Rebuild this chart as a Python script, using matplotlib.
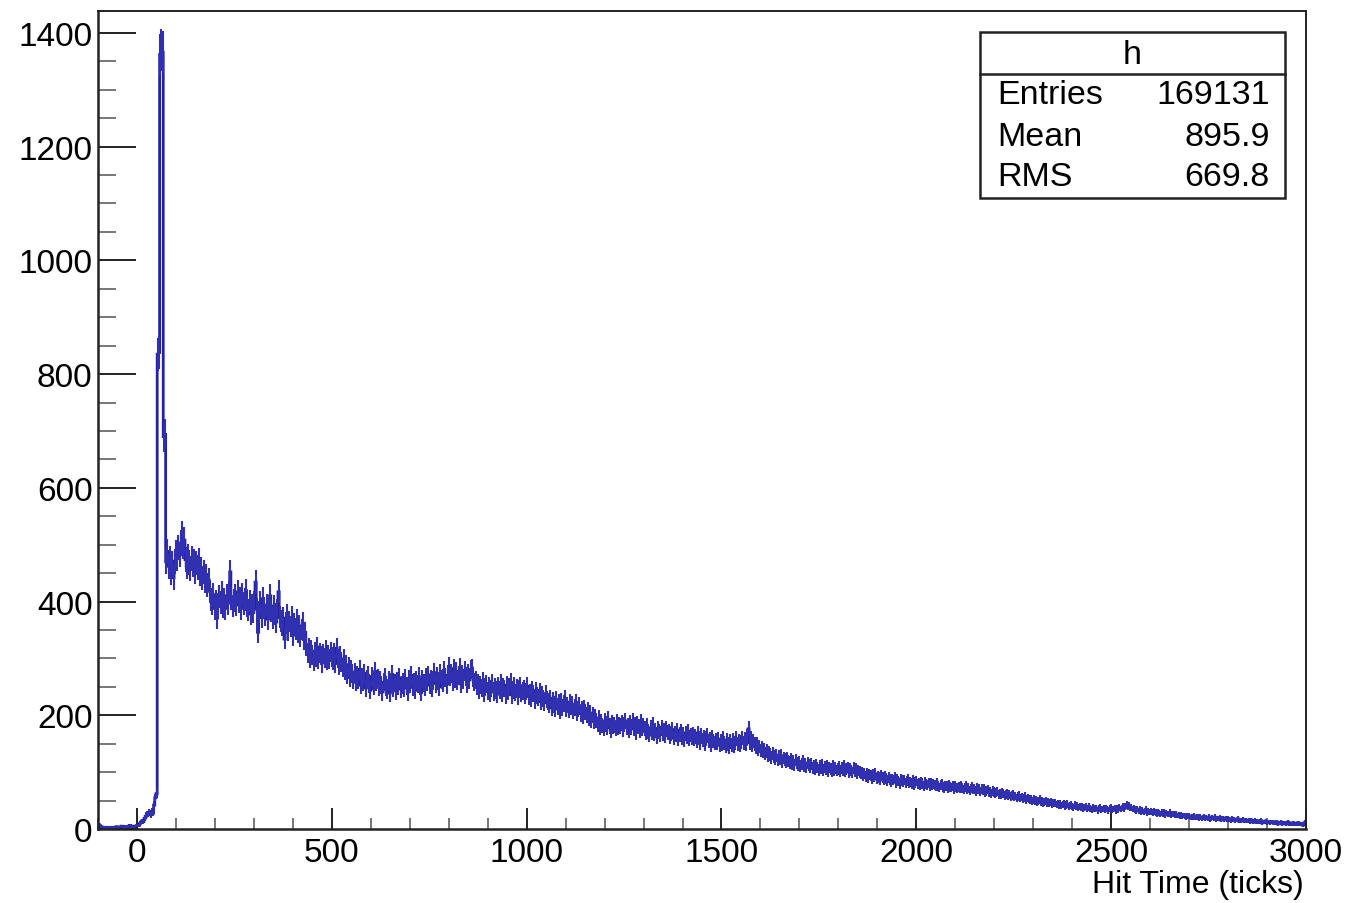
import numpy as np
import matplotlib
matplotlib.use("Agg")
import matplotlib.pyplot as plt
from matplotlib.patches import Rectangle
from matplotlib.lines import Line2D
from matplotlib.ticker import MultipleLocator

# ---- histogram definition: 1000 bins on [-100, 3000] ----
n_bins = 1000
x_low, x_high = -100.0, 3000.0

# bins below zero (pedestal)
counts_pre = [8, 6, 4, 3, 2, 3, 2, 1, 2, 3, 2, 2, 1, 3, 2, 4, 3, 2, 3, 5,
              4, 3, 2, 4, 3, 5, 6, 4, 5, 4, 3, 5, 6]
# slow rise before the prompt peak
counts_rise = [6, 9, 12, 14, 13, 18, 22, 27, 26, 29, 25, 31, 28, 42, 55, 62]
# prompt peak
counts_peak = [835, 838, 1362, 1370, 1366, 690, 694]
# main body
counts_early = [
    470, 488, 462, 475, 451, 468, 442, 471, 487, 476, 495, 482, 503, 519, 497, 508,
    474, 462, 480, 469, 458, 476, 465, 471, 452, 468, 460, 473, 449, 457, 441, 452, 436, 445, 429, 438,
    418, 404, 396, 412, 388, 401, 371, 395, 409, 398, 415, 391, 403, 388, 410, 397, 416, 452, 405, 392,
    402, 411, 394, 417, 399, 406, 388, 412, 396, 403, 419, 392, 385, 401, 378, 393, 382, 398, 434, 387,
    346, 381, 398, 372, 405, 389, 376, 394, 369, 387, 410, 383, 371, 392, 378, 364, 385, 417, 372, 366,
    358, 371, 334, 362, 377, 349, 365, 356, 372, 341, 360, 352, 368, 345, 357, 339, 351, 362, 333, 346,
    322, 309, 318, 301, 314, 306, 295, 312, 303, 320, 298, 310, 305, 292, 308, 301, 315, 296, 306, 299,
    312, 303, 297, 309, 291, 318, 300, 288, 305, 294, 284, 299, 278, 289, 271, 286, 266, 280, 273, 262,
]
counts_mid = [
    276, 258, 270, 262, 281, 253, 267, 259, 274, 248, 263, 270, 256, 244, 268, 261, 252, 277, 258, 265,
    249, 262, 254, 241, 258, 267, 250, 245, 261, 239, 256, 272, 248, 257, 243, 260, 251, 266, 246, 254,
    259, 248, 265, 252, 241, 263, 256, 270, 249, 258, 244, 262, 255, 268, 251, 240, 264, 257, 249, 266,
    258, 271, 253, 264, 247, 262, 275, 256, 268, 260, 250, 273, 263, 257, 279, 266, 254, 270, 286, 268,
    274, 259, 282, 265, 277, 261, 270, 284, 255, 272, 263, 279, 268, 256, 274, 262, 280, 283, 266, 258,
    262, 251, 257, 244, 253, 248, 260, 239, 249, 255, 243, 252, 238, 247, 256, 241, 250, 245, 237, 252,
    244, 256, 239, 250, 247, 235, 253, 242, 249, 258, 236, 245, 251, 240, 248, 233, 246, 252, 238, 243,
    247, 236, 242, 251, 233, 240, 229, 245, 238, 226, 243, 235, 231, 241, 224, 236, 230, 222, 238, 227,
    224, 218, 230, 213, 226, 219, 211, 228, 216, 222, 208, 225, 214, 220, 230, 212, 218, 209, 223, 215,
    219, 208, 214, 222, 205, 211, 217, 203, 210, 199, 213, 206, 201, 209, 196, 204, 192, 200, 189, 197,
    191, 184, 195, 179, 188, 182, 176, 190, 185, 178, 193, 181, 174, 187, 180, 183, 176, 189, 178, 184,
    181, 187, 175, 184, 190, 178, 182, 173, 186, 179, 191, 176, 183, 170, 185, 180, 174, 188, 177, 182,
    176, 169, 181, 172, 165, 178, 170, 183, 167, 174, 162, 177, 171, 166, 179, 168, 173, 164, 176, 170,
    172, 163, 168, 175, 160, 169, 165, 174, 158, 166, 171, 161, 167, 157, 169, 163, 172, 159, 165, 161,
    166, 158, 163, 155, 169, 160, 152, 164, 157, 161, 150, 159, 165, 154, 158, 148, 162, 155, 151, 157,
    152, 158, 147, 155, 149, 160, 151, 145, 156, 150, 143, 154, 148, 157, 146, 152, 159, 149, 155, 147,
]
counts_late = [
    153, 160, 151, 158, 149, 163, 176, 152, 160, 147, 155, 150, 143, 149, 141, 145, 138, 142, 136, 139,
    133, 137, 129, 135, 131, 126, 133, 128, 124, 130, 121, 127, 123, 129, 119, 125, 122, 118, 124, 120,
    117, 122, 115, 119, 113, 121, 116, 112, 118, 110, 115, 119, 111, 114, 108, 116, 112, 109, 114, 107,
    111, 106, 113, 108, 104, 110, 107, 112, 103, 109, 105, 111, 102, 108, 106, 101, 110, 104, 107, 103,
    106, 109, 102, 107, 104, 110, 101, 105, 108, 100, 106, 103, 99, 107, 102, 105, 98, 103, 100, 97,
    99, 95, 98, 93, 97, 91, 96, 94, 89, 95, 92, 97, 88, 93, 91, 86, 94, 90, 87, 92,
    89, 85, 91, 87, 83, 88, 86, 90, 82, 87, 84, 80, 88, 85, 83, 86, 81, 84, 87, 82,
    83, 80, 85, 78, 82, 84, 79, 81, 77, 83, 80, 76, 82, 79, 78, 81, 75, 80, 77, 79,
    78, 75, 80, 76, 73, 77, 79, 74, 72, 76, 75, 71, 77, 74, 73, 76, 70, 75, 73, 72,
    74, 71, 76, 72, 69, 73, 75, 70, 72, 68, 71, 74, 69, 70, 67, 72, 69, 71, 66, 70,
    68, 70, 65, 67, 69, 64, 66, 63, 67, 65, 62, 64, 66, 61, 63, 60, 64, 62, 59, 61,
    62, 58, 60, 57, 59, 61, 56, 58, 55, 57, 59, 54, 56, 53, 55, 57, 52, 54, 53, 51,
    53, 50, 52, 49, 51, 48, 50, 52, 47, 49, 46, 48, 50, 45, 47, 46, 48, 44, 46, 45,
    46, 43, 45, 42, 44, 41, 43, 45, 40, 42, 44, 39, 41, 43, 40, 38, 42, 39, 41, 38,
    40, 37, 39, 36, 38, 40, 35, 37, 39, 36, 34, 38, 36, 35, 37, 33, 36, 38, 34, 35,
    36, 34, 37, 35, 33, 36, 38, 34, 35, 37, 33, 36, 34, 38, 35, 37, 39, 36, 40, 42,
    39, 41, 37, 38, 35, 36, 34, 33, 35, 32, 34, 31, 33, 30, 32, 34, 29, 31, 30, 32,
    30, 28, 31, 29, 27, 30, 28, 26, 29, 27, 30, 25, 28, 26, 27, 29, 25, 27, 26, 24,
    26, 24, 25, 23, 25, 22, 24, 23, 21, 24, 22, 23, 20, 22, 21, 23, 20, 21, 22, 19,
    21, 19, 20, 22, 18, 20, 19, 21, 17, 19, 20, 18, 21, 17, 19, 18, 20, 16, 18, 19,
    17, 19, 16, 18, 17, 15, 18, 16, 17, 15, 16, 18, 14, 16, 15, 17, 14, 15, 16, 14,
    15, 13, 16, 14, 12, 15, 13, 14, 12, 13, 15, 11, 13, 12, 14, 11, 12, 13, 11, 12,
    12, 10, 11, 13, 9, 11, 10, 12, 9, 10, 11, 9, 10, 12, 8, 10, 9, 11, 8, 10,
    9, 11, 8, 10, 9, 7, 10, 12,
]

# statistics box text
stats_title = "h"
stats_names = ["Entries", "Mean", "RMS"]
stats_values = ["169131", "895.9", "669.8"]
x_title = "Hit Time (ticks)"

counts = np.array(counts_pre + counts_rise + counts_peak
                  + counts_early + counts_mid + counts_late, dtype=float)
assert counts.size == n_bins
edges = np.linspace(x_low, x_high, n_bins + 1)
centers = 0.5 * (edges[:-1] + edges[1:])
errors = np.sqrt(counts)

# ---- figure ----
plt.rcParams["font.family"] = ["Liberation Sans", "DejaVu Sans"]
W, H = 1345, 904
fig = plt.figure(figsize=(W / 100, H / 100), dpi=100)
ax = fig.add_axes([98 / W, 1 - 830 / H, (1306 - 98) / W, (830 - 12) / H])

ax.stairs(counts, edges, color="#2222a6", lw=2.0, baseline=None)
ax.vlines(centers, counts - errors, counts + errors, color="#3030b0", lw=1.5)

ax.set_xlim(x_low, x_high)
ax.set_ylim(0, 1.05 * counts.max())

ax.xaxis.set_major_locator(MultipleLocator(500))
ax.xaxis.set_minor_locator(MultipleLocator(100))
ax.yaxis.set_major_locator(MultipleLocator(200))
ax.yaxis.set_minor_locator(MultipleLocator(50))
ax.tick_params(axis="both", which="both", direction="in", top=False, right=False,
               color="#222222", labelsize=24)
ax.tick_params(axis="x", which="major", length=15, width=1.4, pad=6)
ax.tick_params(axis="x", which="minor", length=8, width=1.4, color="#777777")
ax.tick_params(axis="y", which="major", length=27, width=1.4, pad=4)
ax.tick_params(axis="y", which="minor", length=13, width=1.4, color="#777777")
for side, sp in ax.spines.items():
    sp.set_linewidth(1.8 if side in ("left", "bottom") else 1.4)
    sp.set_color("#222222")

fig.text(1304 / W, 1 - 885 / H, x_title, ha="right", va="center", fontsize=23)

# ---- statistics box ----
bx0, bx1 = 980 / W, 1285 / W
by0, by1 = 1 - 199 / H, 1 - 33 / H
fig.patches.append(Rectangle((bx0, by0), bx1 - bx0, by1 - by0, transform=fig.transFigure,
                             facecolor="white", edgecolor="#222222", lw=1.8, zorder=5))
fig.lines.append(Line2D([bx0, bx1], [1 - 75 / H, 1 - 75 / H], transform=fig.transFigure,
                        color="#222222", lw=1.8, zorder=6))
fig.text((bx0 + bx1) / 2, 1 - 55 / H, stats_title, ha="center", va="center",
         fontsize=24.5, zorder=7)
row_y = [96, 137, 178]
for name, val, yy in zip(stats_names, stats_values, row_y):
    fig.text(997 / W, 1 - yy / H, name, ha="left", va="center", fontsize=24.5, zorder=7)
    fig.text(1270 / W, 1 - yy / H, val, ha="right", va="center", fontsize=24.5, zorder=7)

fig.savefig("out.png", dpi=100)
